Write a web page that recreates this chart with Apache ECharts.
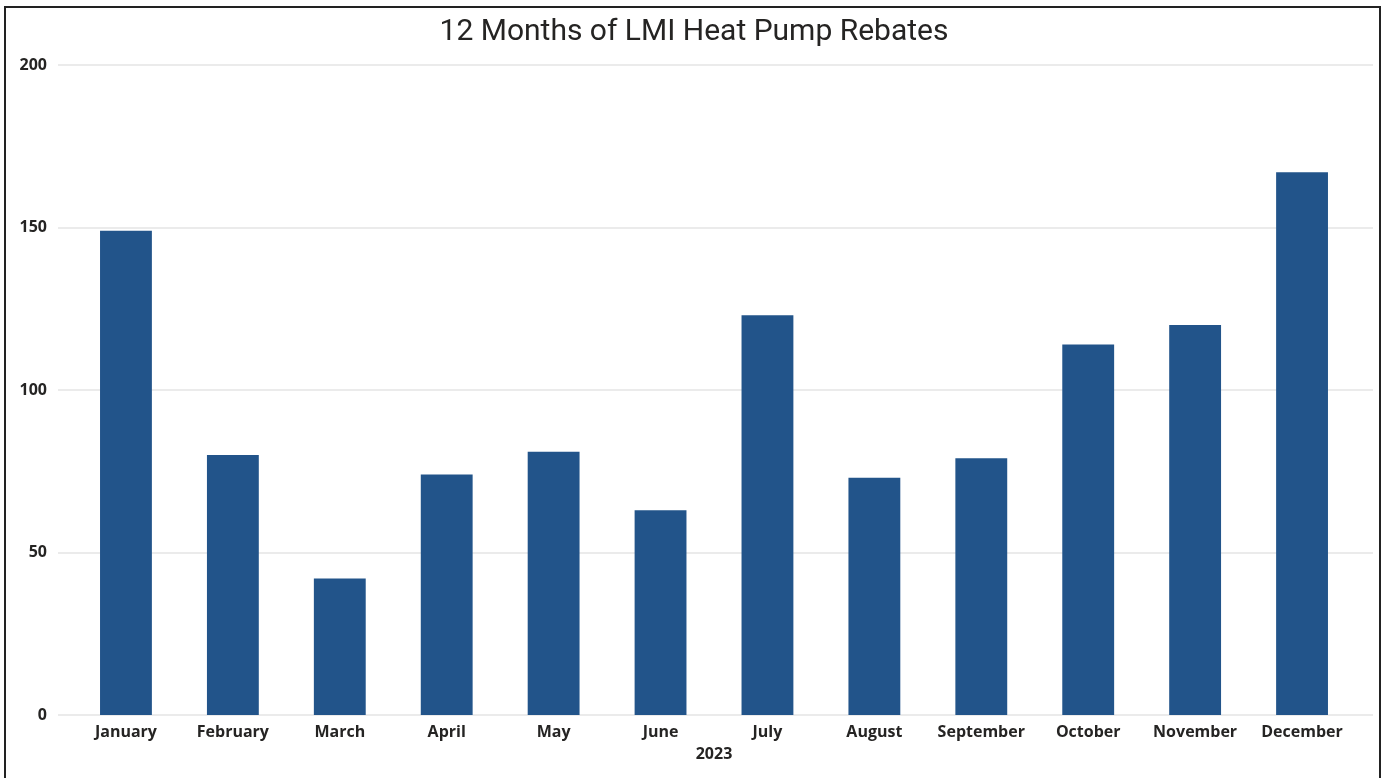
<!DOCTYPE html>
<html>
<head>
<meta charset="utf-8">
<script src="https://cdn.jsdelivr.net/npm/echarts@6/dist/echarts.min.js"></script>
<style>
html,body{margin:0;padding:0;background:#fff;}
#chart{width:1388px;height:778px;}
</style>
</head>
<body>
<div id="chart"></div>
<script>
const categories = ['January','February','March','April','May','June','July','August','September','October','November','December'];
const rebates = [149, 80, 42, 74, 81, 63, 123, 73, 79, 114, 120, 167];
const yTicks = [0, 50, 100, 150, 200];

const chart = echarts.init(document.getElementById('chart'));
const labelFont = {fontFamily:'Open Sans', fontWeight:'bold', fontSize:16, color:'#252423'};
chart.setOption({
  animation:false,
  backgroundColor:'#fff',
  title:{
    text:'12 Months of LMI Heat Pump Rebates',
    left:'center', top:12,
    textStyle:{fontFamily:'Roboto', fontWeight:'normal', fontSize:30, color:'#252423'}
  },
  graphic:[{
    type:'rect', silent:true, z:100,
    shape:{x:5, y:7, width:1375, height:790},
    style:{fill:'none', stroke:'#222', lineWidth:2}
  }],
  grid:[
    {left:58, right:15, top:65, bottom:63},
    {left:72.5, right:32.5, top:65, bottom:63}
  ],
  xAxis:[
    {gridIndex:0, type:'value', min:0, max:1, show:false},
    {gridIndex:1, type:'category', data:categories,
     axisLine:{show:false}, axisTick:{show:false},
     axisLabel:Object.assign({margin:9, interval:0}, labelFont),
     name:'2023', nameLocation:'middle', nameGap:31,
     nameTextStyle:labelFont}
  ],
  yAxis:[
    {gridIndex:0, type:'value', min:yTicks[0], max:yTicks[yTicks.length-1], interval:50,
     axisLine:{show:false}, axisTick:{show:false},
     axisLabel:Object.assign({margin:11}, labelFont),
     splitLine:{lineStyle:{color:'#e4e4e4', width:1.5}}},
    {gridIndex:1, type:'value', min:0, max:200, show:false, splitLine:{show:false}}
  ],
  series:[{
    type:'bar', xAxisIndex:1, yAxisIndex:1,
    data:rebates, barWidth:'48.5%',
    itemStyle:{color:'#22548A'}
  }]
});
</script>
</body>
</html>
